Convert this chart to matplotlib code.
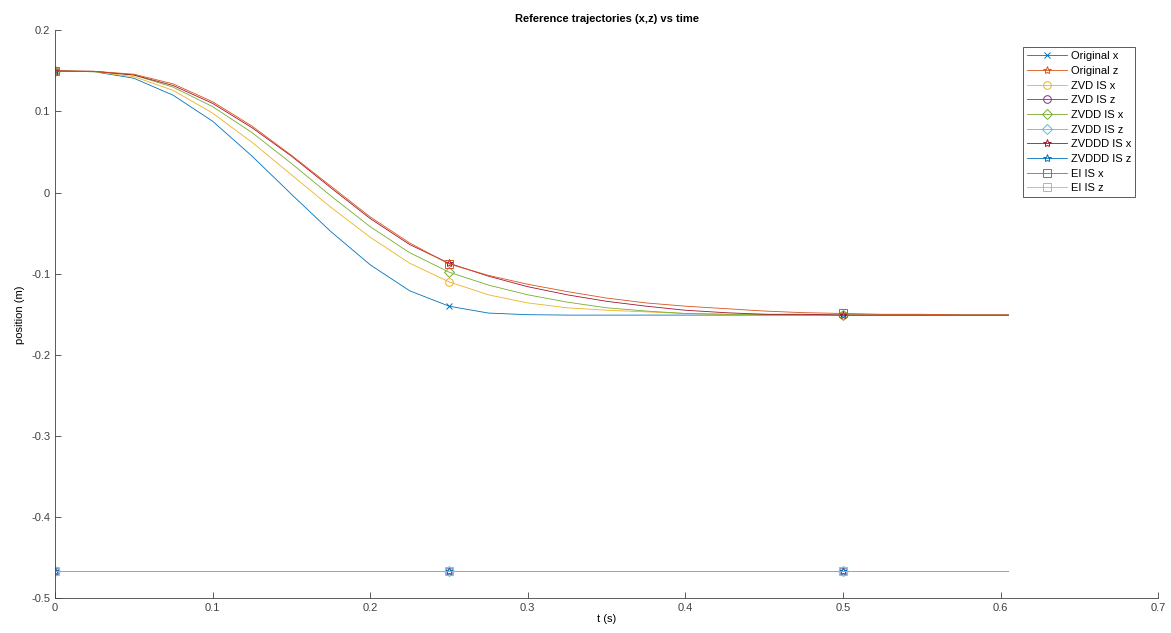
import numpy as np
import matplotlib
matplotlib.use("Agg")
import matplotlib.pyplot as plt

plt.rcParams['font.family'] = ['Liberation Sans', 'DejaVu Sans']

# time grid (s)
t = [0, 0.025, 0.05, 0.075, 0.1, 0.125, 0.15, 0.175, 0.2, 0.225, 0.25, 0.275,
     0.3, 0.325, 0.35, 0.375, 0.4, 0.425, 0.45, 0.475, 0.5, 0.525, 0.55, 0.575, 0.605]

orig_x = [0.15, 0.149, 0.141, 0.12, 0.088, 0.045, -0.002, -0.048, -0.089, -0.121, -0.14, -0.1485,
          -0.1505, -0.151, -0.151, -0.151, -0.151, -0.151, -0.151, -0.151, -0.151, -0.151, -0.151, -0.151, -0.151]
zvd_x = [0.15, 0.149, 0.143, 0.126, 0.098, 0.062, 0.022, -0.018, -0.055, -0.087, -0.110, -0.126,
         -0.136, -0.142, -0.145, -0.147, -0.149, -0.150, -0.150, -0.151, -0.151, -0.151, -0.151, -0.151, -0.151]
zvdd_x = [0.15, 0.1495, 0.145, 0.13, 0.106, 0.074, 0.036, -0.004, -0.042, -0.074, -0.098, -0.114,
          -0.126, -0.135, -0.142, -0.146, -0.149, -0.150, -0.150, -0.151, -0.151, -0.151, -0.151, -0.151, -0.151]
zvddd_x = [0.15, 0.1495, 0.145, 0.132, 0.11, 0.08, 0.045, 0.006, -0.032, -0.064, -0.087, -0.103,
           -0.116, -0.126, -0.134, -0.140, -0.145, -0.148, -0.150, -0.150, -0.151, -0.151, -0.151, -0.151, -0.151]
ei_x = [0.15, 0.1495, 0.146, 0.134, 0.112, 0.082, 0.046, 0.008, -0.03, -0.062, -0.088, -0.102,
        -0.113, -0.122, -0.130, -0.136, -0.140, -0.143, -0.146, -0.148, -0.149, -0.150, -0.150, -0.151, -0.151]
z_level = -0.467
orig_z = [z_level] * len(t)
zvd_z = [z_level] * len(t)
zvdd_z = [z_level] * len(t)
zvddd_z = [z_level] * len(t)
ei_z = [z_level] * len(t)

series = [
    ("Original x", orig_x, "#0072BD", "x"),
    ("Original z", orig_z, "#D95319", "*"),
    ("ZVD IS x", zvd_x, "#EDB120", "o"),
    ("ZVD IS z", zvd_z, "#7E2F8E", "o"),
    ("ZVDD IS x", zvdd_x, "#77AC30", "D"),
    ("ZVDD IS z", zvdd_z, "#4DBEEE", "D"),
    ("ZVDDD IS x", zvddd_x, "#A2142F", "*"),
    ("ZVDDD IS z", zvddd_z, "#0072BD", "*"),
    ("EI IS x", ei_x, "#D95319", "s"),
    ("EI IS z", ei_z, "#EDB120", "s"),
]

fig = plt.figure(figsize=(11.71, 6.33), dpi=100)
ax = fig.add_axes([0.047, 0.055, 0.942, 0.897])

for name, y, c, m in series:
    ms = {"*": 6, "D": 5, "o": 5.5, "s": 5.5, "x": 5}[m]
    ax.plot(t, y, color=c, lw=0.6, marker=m, markevery=[0, 10, 20],
            markersize=ms, markerfacecolor='none', markeredgewidth=0.7, label=name)

ax.set_xlim(0, 0.7)
ax.set_ylim(-0.5, 0.2)
ax.set_xticks(np.arange(0, 0.71, 0.1))
ax.set_yticks(np.arange(-0.5, 0.21, 0.1))
ax.set_xticklabels(["0", "0.1", "0.2", "0.3", "0.4", "0.5", "0.6", "0.7"])
ax.set_yticklabels(["-0.5", "-0.4", "-0.3", "-0.2", "-0.1", "0", "0.1", "0.2"])
ax.tick_params(direction='in', length=4, width=0.6, labelsize=8, colors='#404040')
for s in ['top', 'right']:
    ax.spines[s].set_visible(False)
for s in ['left', 'bottom']:
    ax.spines[s].set_color('#404040')
    ax.spines[s].set_linewidth(0.6)

ax.set_xlabel("t (s)", fontsize=8, labelpad=1)
ax.set_ylabel("position (m)", fontsize=8, labelpad=4)
ax.set_title("Reference trajectories (x,z) vs time", fontsize=8, fontweight='bold', pad=6)

leg = ax.legend(loc='upper right', bbox_to_anchor=(0.979, 0.97), borderaxespad=0,
                fontsize=8, fancybox=False, framealpha=1, edgecolor='#404040',
                handlelength=3.6, handletextpad=0.3, labelspacing=0.42, borderpad=0.35)
leg.get_frame().set_linewidth(0.6)

fig.savefig("out.png", dpi=100)
